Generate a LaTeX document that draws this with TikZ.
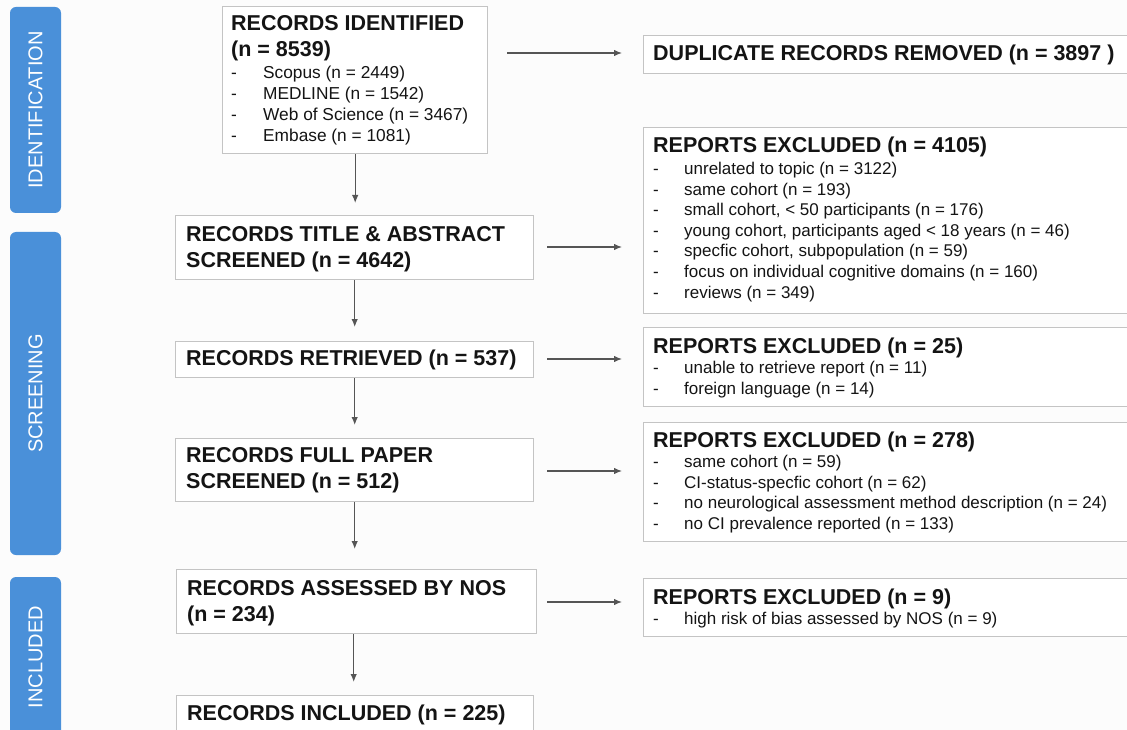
\documentclass[tikz,border=0pt]{standalone}
\usepackage{fontspec}
\setmainfont{Liberation Sans}
\usetikzlibrary{arrows.meta}
\definecolor{sideblue}{RGB}{74,144,217}
\definecolor{boxgray}{RGB}{196,196,196}
\definecolor{arrgray}{RGB}{85,85,85}
\definecolor{ink}{RGB}{20,20,20}
\definecolor{bg}{RGB}{252,252,252}
\setlength\parindent{0pt}
\newcommand\ttl{\fontsize{21.5}{26}\selectfont\bfseries}
\newcommand\smf{\fontsize{17}{20.6}\selectfont\mdseries}
\newcommand\smfb{\fontsize{17.3}{21.2}\selectfont\mdseries}
\newcommand\dashitem[2]{\par{\smf\makebox[#1][l]{-}#2\par}}
\newcommand\dashitemb[2]{\par{\smfb\makebox[#1][l]{-}#2\par}}
\newcommand\firstgap{\par\vspace{0.9pt}}
\newcommand\boxtext[1]{\begin{minipage}[t]{480pt}\raggedright #1\end{minipage}}
\begin{document}
\begin{tikzpicture}[x=1pt,y=-1pt,
  box/.style={draw=boxgray, line width=1.4pt, fill=white, inner sep=0pt, anchor=north west, rectangle},
  txt/.style={inner sep=0pt, anchor=base west, text=ink},
  side/.style={fill=sideblue, rounded corners=6pt, rotate=90, text=white, font=\fontsize{20}{24}\selectfont, inner sep=0pt},
  arr/.style={draw=arrgray, line width=1.2pt, -{Latex[length=8pt,width=6.5pt]}}]
\clip (0,0) rectangle (1127,730);
\fill[bg] (0,0) rectangle (1127,730);
% side labels
\node[side, minimum width=206pt, minimum height=51pt] (sid) at (35.5,110) {IDENTIFICATION};
\node[side, minimum width=323pt, minimum height=51pt] (sscr) at (35.5,393.5) {SCREENING};
\node[side, minimum width=160pt, minimum height=51pt] (sinc) at (35.5,657) {INCLUDED};
% left boxes
\node[box, minimum width=265pt, minimum height=147pt] (b1) at (222,6) {};
\node[box, minimum width=358pt, minimum height=64pt] (b2) at (175,215) {};
\node[box, minimum width=358pt, minimum height=36pt] (b3) at (175,341) {};
\node[box, minimum width=358pt, minimum height=63pt] (b4) at (175,438) {};
\node[box, minimum width=360pt, minimum height=64pt] (b5) at (176,569) {};
\node[box, minimum width=357pt, minimum height=60pt] (b6) at (176,695) {};
% right boxes
\node[box, minimum width=500pt, minimum height=38pt] (dup) at (643,35) {};
\node[box, minimum width=500pt, minimum height=186pt] (ex1) at (643,127) {};
\node[box, minimum width=500pt, minimum height=79pt] (ex2) at (643,327) {};
\node[box, minimum width=500pt, minimum height=119pt] (ex3) at (643,422) {};
\node[box, minimum width=500pt, minimum height=58pt] (ex4) at (643,578) {};
% texts
\node[txt] (t1) at (231,31) {\boxtext{\ttl RECORDS IDENTIFIED\par (n = 8539)\par
  \dashitemb{32pt}{Scopus (n = 2449)}\dashitemb{32pt}{MEDLINE (n = 1542)}\dashitemb{32pt}{Web of Science (n = 3467)}\dashitemb{32pt}{Embase (n = 1081)}}};
\node[txt] (t2) at (186,241) {\boxtext{\ttl RECORDS TITLE \& ABSTRACT\par SCREENED (n = 4642)}};
\node[txt] (t3) at (186,365) {\boxtext{\ttl RECORDS RETRIEVED (n = 537)}};
\node[txt] (t4) at (186,462) {\boxtext{\ttl RECORDS FULL PAPER\par SCREENED (n = 512)}};
\node[txt] (t5) at (187,595) {\boxtext{\ttl RECORDS ASSESSED BY NOS\par (n = 234)}};
\node[txt] (t6) at (187,720) {\boxtext{\ttl RECORDS INCLUDED (n = 225)}};
\node[txt] (td) at (653,61) {\boxtext{\ttl DUPLICATE RECORDS REMOVED (n = 3897 )}};
\node[txt] (te1) at (653,153) {\boxtext{\ttl REPORTS EXCLUDED (n = 4105)\firstgap
  \dashitem{31pt}{unrelated to topic (n = 3122)}\dashitem{31pt}{same cohort (n = 193)}\dashitem{31pt}{small cohort, < 50 participants (n = 176)}\dashitem{31pt}{young cohort, participants aged < 18 years (n = 46)}\dashitem{31pt}{specfic cohort, subpopulation (n = 59)}\dashitem{31pt}{focus on individual cognitive domains (n = 160)}\dashitem{31pt}{reviews (n = 349)}}};
\node[txt] (te2) at (653,353) {\boxtext{\ttl REPORTS EXCLUDED (n = 25)\par
  \dashitem{31pt}{unable to retrieve report (n = 11)}\dashitem{31pt}{foreign language (n = 14)}}};
\node[txt] (te3) at (653,447) {\boxtext{\ttl REPORTS EXCLUDED (n = 278)\par
  \dashitem{31pt}{same cohort (n = 59)}\dashitem{31pt}{CI-status-specfic cohort (n = 62)}\dashitem{31pt}{no neurological assessment method description (n = 24)}\dashitem{31pt}{no CI prevalence reported (n = 133)}}};
\node[txt] (te4) at (653,604) {\boxtext{\ttl REPORTS EXCLUDED (n = 9)\par
  \dashitem{31pt}{high risk of bias assessed by NOS (n = 9)}}};
% vertical arrows
\draw[arr, shorten >=12pt] (b1.south) -- (b1.south |- b2.north);
\draw[arr, shorten >=14pt] (b2.south) -- (b2.south |- b3.north);
\draw[arr, shorten >=13pt] (b3.south) -- (b3.south |- b4.north);
\draw[arr, shorten >=20pt] (b4.south) -- (b4.south |- b5.north);
\coordinate (v5) at ([xshift=-3pt]b5.south);
\draw[arr, shorten >=13pt] (v5) -- (v5 |- b6.north);
% horizontal arrows
\coordinate (a1) at (487,53);
\draw[arr, shorten <=20pt, shorten >=21pt] (a1) -- (a1 -| dup.west);
\coordinate (a2) at (533,247);
\draw[arr, shorten <=14pt, shorten >=21pt] (a2) -- (a2 -| ex1.west);
\coordinate (a3) at (533,359);
\draw[arr, shorten <=14pt, shorten >=21pt] (a3) -- (a3 -| ex2.west);
\coordinate (a4) at (533,471);
\draw[arr, shorten <=14pt, shorten >=21pt] (a4) -- (a4 -| ex3.west);
\coordinate (a5) at (536,602);
\draw[arr, shorten <=11pt, shorten >=21pt] (a5) -- (a5 -| ex4.west);
\end{tikzpicture}
\end{document}
